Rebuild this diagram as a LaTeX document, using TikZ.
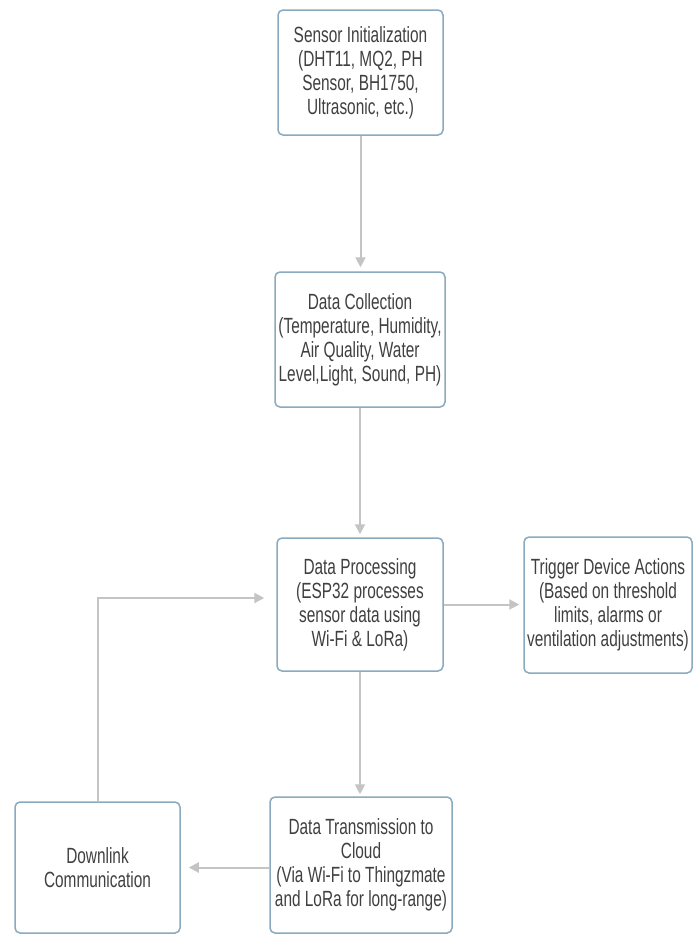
\documentclass[tikz,border=0pt]{standalone}
\usepackage{fontspec}
\setmainfont{Liberation Sans}[FakeStretch=0.70]
\usetikzlibrary{arrows.meta,calc}
\definecolor{boxline}{HTML}{8AAAC0}
\definecolor{arrowgray}{HTML}{C4C4C4}
\definecolor{txt}{HTML}{404040}
\begin{document}
\begin{tikzpicture}[x=1pt,y=-1pt,
  flowbox/.style={draw=boxline, line width=1.5pt, rounded corners=5pt, fill=white,
    inner sep=0pt, align=center, text=txt, font=\fontsize{22}{24}\selectfont},
  conn/.style={draw=arrowgray, line width=2pt, -{Triangle[length=10pt,width=10pt]}}]
\useasboundingbox (0,0) rectangle (699,935);
\fill[white] (0,0) rectangle (699,935);

\node[flowbox, minimum width=165pt, minimum height=125pt] (A) at (360.5,72.5)
  {Sensor Initialization\\(DHT11, MQ2, PH\\Sensor, BH1750,\\Ultrasonic, etc.)};
\node[flowbox, minimum width=170pt, minimum height=135pt] (B) at (360,339.5)
  {Data Collection\\(Temperature, Humidity,\\Air Quality, Water\\Level,Light, Sound, PH)};
\node[flowbox, minimum width=166pt, minimum height=133pt] (C) at (360,604.5)
  {Data Processing\\(ESP32 processes\\sensor data using\\Wi-Fi \& LoRa)};
\node[flowbox, minimum width=168pt, minimum height=136pt] (T) at (608,605)
  {Trigger Device Actions\\(Based on threshold\\limits, alarms or\\ventilation adjustments)};
\node[flowbox, minimum width=165pt, minimum height=131pt] (D) at (97.5,867.5)
  {Downlink\\Communication};
\node[flowbox, minimum width=182pt, minimum height=136pt] (E) at (361,865)
  {Data Transmission to\\Cloud\\(Via Wi-Fi to Thingzmate\\and LoRa for long-range)};

\draw[conn, shorten >=4pt] (A.south) -- (A.south |- B.north);
\draw[conn, shorten >=3pt] (B.south) -- (B.south |- C.north);
\draw[conn, shorten >=4pt] (C.east) -- (C.east -| T.west);
\draw[conn, shorten >=2pt] (C.south) -- (C.south |- E.north);
\draw[conn, shorten >=8pt] (D.east -| E.west) -- (D.east);
\draw[conn, shorten >=12pt] (D.north) |- ([yshift=6.5pt]C.west);
\end{tikzpicture}
\end{document}
